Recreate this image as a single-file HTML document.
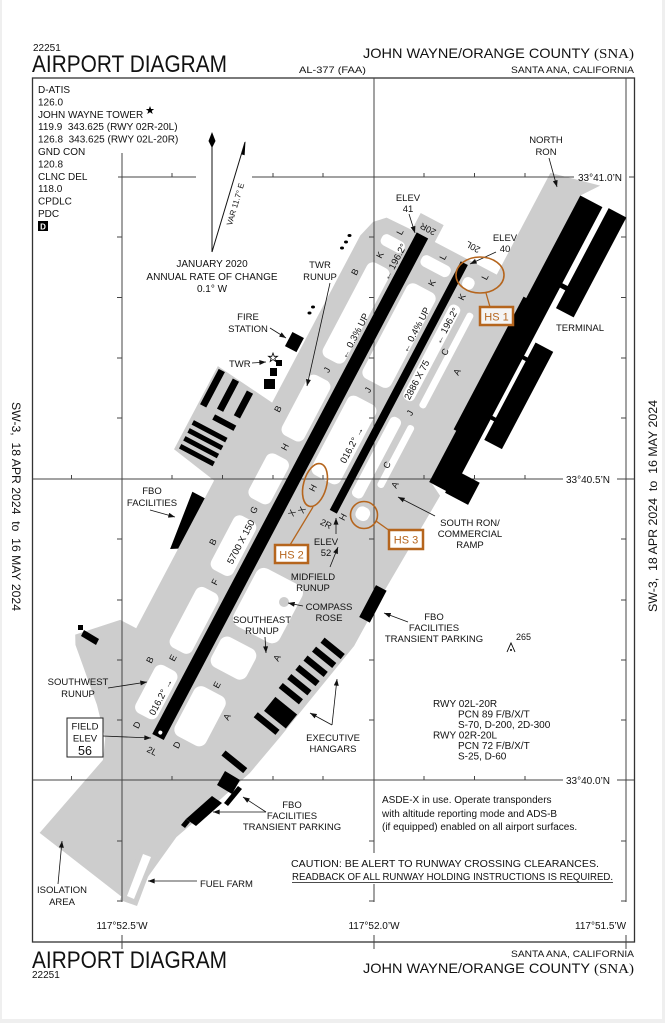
<!DOCTYPE html>
<html><head><meta charset="utf-8">
<style>
html,body{margin:0;padding:0;background:#efefef;}
svg{display:block;}
text{font-family:"Liberation Sans",Arial,sans-serif;fill:#111;}
.s{font-size:9.5px;}
.m{font-size:10px;}
.r{font-size:9.5px;}
.hs{font-size:11px;fill:#b5651d;}
</style></head><body>
<svg width="665" height="1023" viewBox="0 0 665 1023" xmlns="http://www.w3.org/2000/svg">
<defs>
<marker id="a" viewBox="0 0 8 6" refX="8" refY="3" markerWidth="7" markerHeight="5" markerUnits="userSpaceOnUse" orient="auto"><path d="M0,0 L8,3 L0,6 z" fill="#111"/></marker>
</defs>
<rect x="2" y="0" width="660" height="1019" fill="#fff"/>

<!-- header -->
<text x="33" y="51" class="m">22251</text>
<text x="32" y="72" font-size="24" textLength="195" lengthAdjust="spacingAndGlyphs">AIRPORT DIAGRAM</text>
<text x="363" y="58" font-size="14" textLength="227" lengthAdjust="spacingAndGlyphs">JOHN WAYNE/ORANGE COUNTY</text>
<text x="594" y="58" font-size="14" style="font-family:'Liberation Serif',serif" textLength="40" lengthAdjust="spacingAndGlyphs">(SNA)</text>
<text x="299" y="73" font-size="9.5" textLength="67" lengthAdjust="spacingAndGlyphs">AL-377 (FAA)</text>
<text x="511" y="73" font-size="9.5" textLength="123" lengthAdjust="spacingAndGlyphs">SANTA ANA, CALIFORNIA</text>

<!-- grey airfield -->
<g transform="translate(158,737) rotate(27.8)">
<polygon fill="#cdcdcd" points="-55,-538 -50,-556 -40,-566 -12,-567 -12,-586 14,-586 14,-567 84,-567 84,-682 134,-694 121,-676 124,-352 137,-345 132,-232 131,-172 108,-57 98,-11 84,27 63,80 52,160 -60,140 -38,46 -46,26 -69,0 -116,-43 -121,-52 -88,-86 -70,-86 -70,-253 -120,-262 -120,-356 -55,-349"/>
<g fill="#fff">
<rect x="-35" y="-552" width="25" height="12" rx="5"/>
<rect x="-35" y="-521" width="25" height="107" rx="7"/>
<rect x="-35" y="-394" width="25" height="68" rx="7"/>
<rect x="-35" y="-305" width="25" height="50" rx="7"/>
<rect x="-35" y="-235" width="25" height="61" rx="7"/>
<rect x="-35" y="-154" width="25" height="68" rx="7"/>
<rect x="-35" y="-66" width="25" height="54" rx="7"/>
<rect x="10" y="-552" width="32" height="12" rx="5"/>
<rect x="10" y="-521" width="32" height="107" rx="7"/>
<rect x="10" y="-394" width="32" height="89" rx="7"/>
<rect x="57" y="-552" width="12" height="12" rx="5"/>
<rect x="57" y="-521" width="12" height="107" rx="5"/>
<rect x="57" y="-394" width="12" height="90" rx="5"/>
<rect x="76" y="-521" width="7" height="107" rx="3"/>
<rect x="76" y="-394" width="7" height="70" rx="3"/>
<rect x="70" y="-300" width="14" height="14" rx="6"/>
<rect x="10" y="-200" width="52" height="65" rx="9"/>
<rect x="10" y="-122" width="40" height="34" rx="8"/>
<rect x="10" y="-66" width="35" height="56" rx="8"/>
</g>
</g>
<!-- fuel farm -->
<polygon fill="#cdcdcd" points="140,848 157,853 137,906 120,900"/>
<polygon fill="#fff" points="143,854 151,857 134,899 127,896"/>
<!-- compass rose -->
<circle cx="284" cy="602" r="5" fill="#cdcdcd"/>

<!-- grid lines -->
<g stroke="#444" stroke-width="1" fill="none">
<rect x="32.5" y="78" width="602" height="864" stroke="#333" stroke-width="1.3"/>
<path d="M118,177H196 M252,177H574 M629,177H634"/>
<path d="M32.5,479H563 M617,479H634"/>
<path d="M32.5,780H563 M617,780H634"/>
<path d="M122,153V902 M122,935V949"/>
<path d="M374,78V853 M374,884V902 M374,935V949"/>
<path d="M626,78V902 M626,935V949"/>
<path d="M172,177v-4 M273,177v-4 M323,177v-4 M424,177v-4 M474.5,177v-4 M525,177v-4"/>
<path d="M71.5,479v-4 M172,479v-4 M222.5,479v-4 M273,479v-4 M323,479v-4 M424,479v-4 M474.5,479v-4 M525,479v-4"/>
<path d="M71.5,780v-4 M172,780v-4 M222.5,780v-4 M273,780v-4 M323,780v-4 M424,780v-4 M474.5,780v-4 M525,780v-4"/>
<path d="M122,237h-5 M122,297.5h-5 M122,358h-5 M122,418h-5 M122,539h-5 M122,600h-5 M122,660h-5 M122,720h-5 M122,841h-5 M122,901h-5"/>
<path d="M374,237h-5 M374,297.5h-5 M374,358h-5 M374,418h-5 M374,539h-5 M374,600h-5 M374,660h-5 M374,720h-5 M374,841h-5 M374,901h-5"/>
<path d="M626,237h-5 M626,297.5h-5 M626,358h-5 M626,418h-5 M626,539h-5 M626,600h-5 M626,660h-5 M626,720h-5 M626,841h-5 M626,901h-5"/>
</g>

<!-- black runways and buildings -->
<g transform="translate(158,737) rotate(27.8)" fill="#000">
<rect x="-6.5" y="-567" width="13" height="567"/>
<rect x="46" y="-562" width="8" height="281"/>
<circle cx="0" cy="-5" r="2" fill="#fff"/>
<rect x="121" y="-676" width="25" height="324"/>
<rect x="118" y="-560" width="6" height="150"/>
<rect x="140" y="-375" width="26" height="25"/>
<rect x="152" y="-678" width="20" height="113"/>
<rect x="150" y="-525" width="20" height="110"/>
<rect x="145" y="-590" width="8" height="5"/>
<rect x="145" y="-508" width="6" height="4"/>
<rect x="145" y="-440" width="6" height="4"/>
<rect x="-118" y="-354" width="7" height="40"/>
<rect x="-101" y="-352" width="7" height="34"/>
<rect x="-83" y="-348" width="7" height="28"/>
<rect x="-100" y="-312" width="24" height="6"/>
<rect x="-116" y="-297" width="38" height="5"/>
<rect x="-116" y="-288" width="38" height="5"/>
<rect x="-116" y="-279" width="38" height="5"/>
<rect x="-116" y="-270" width="38" height="5"/>
<rect x="-70" y="-421" width="13" height="16"/>
<polygon points="-84,-233 -70,-233 -70,-176 -77,-172"/>
<rect x="122" y="-236" width="12" height="36"/>
</g>
<!-- TWR buildings -->
<g fill="#000">
<rect x="276" y="360" width="6" height="6"/>
<rect x="270" y="368" width="7" height="8"/>
<rect x="264" y="379" width="11" height="10"/>
<ellipse cx="342" cy="248" rx="2" ry="1.5"/><ellipse cx="346" cy="242" rx="2" ry="1.5"/><ellipse cx="349.5" cy="235.5" rx="2" ry="1.5"/>
<ellipse cx="309.5" cy="313" rx="2" ry="1.5"/><ellipse cx="313" cy="307" rx="2" ry="1.5"/>
<rect x="78" y="625" width="5" height="5"/>
<polygon points="84,630 99,639 96,645 81,636"/>
<polygon points="225,771 240,780 232,794 217,785"/>
<polygon points="238,786 242,789 228,806 224,803"/>
<polygon points="212,796 222,803 196,826 186,819"/>
<polygon points="186,819 190,822 185,828 181,825"/>
</g>
<!-- exec hangars -->
<g transform="translate(322.7,640) rotate(39)" fill="#000">
<rect x="0" y="-3" width="26" height="6.5"/>
<rect x="-1" y="9.3" width="26" height="6.5"/>
<rect x="-2" y="21.6" width="26" height="6.5"/>
<rect x="-2.5" y="33.9" width="26" height="6.5"/>
<rect x="-3" y="46.2" width="26" height="6.5"/>
<rect x="-4" y="58.5" width="26" height="6.5"/>
<rect x="-1" y="74" width="28" height="18"/>
<rect x="-5" y="97" width="28" height="6.5"/>
<rect x="-6" y="147" width="28" height="6.5"/>
</g>

<!-- frequency list -->
<g class="m" font-size="10">
<text x="38" y="93">D-ATIS</text>
<text x="38" y="105.4">126.0</text>
<text x="38" y="117.8">JOHN WAYNE TOWER</text>
<text x="38" y="130.2" xml:space="preserve">119.9  343.625 (RWY 02R-20L)</text>
<text x="38" y="142.6" xml:space="preserve">126.8  343.625 (RWY 02L-20R)</text>
<text x="38" y="155">GND CON</text>
<text x="38" y="167.4">120.8</text>
<text x="38" y="179.8">CLNC DEL</text>
<text x="38" y="192.2">118.0</text>
<text x="38" y="204.6">CPDLC</text>
<text x="38" y="217">PDC</text>
</g>
<polygon points="150,106 151.1,109 154.2,109 151.7,110.9 152.7,114 150,112.1 147.3,114 148.3,110.9 145.8,109 148.9,109" fill="#000"/>
<rect x="38" y="221" width="10" height="10" fill="#000"/>
<text x="43" y="229.5" font-size="8" font-weight="bold" text-anchor="middle" style="fill:#fff">D</text>

<!-- north arrow & variation -->
<line x1="212" y1="147" x2="212" y2="252" stroke="#111" stroke-width="1"/>
<polygon points="212,132 215.5,141 212,148 208.5,141" fill="#000"/>
<line x1="212" y1="252" x2="245" y2="142" stroke="#111" stroke-width="1"/>
<polygon points="245.5,141 241.5,154.4 244.6,155.3" fill="#000"/>
<text transform="translate(238,205) rotate(-73.3)" font-size="8" text-anchor="middle">VAR 11.7° E</text>
<g class="m" text-anchor="middle">
<text x="212" y="267">JANUARY 2020</text>
<text x="212" y="280">ANNUAL RATE OF CHANGE</text>
<text x="212" y="292">0.1° W</text>
</g>

<!-- leader lines -->
<g stroke="#111" stroke-width="0.8" fill="none" marker-end="url(#a)">
<line x1="549" y1="158" x2="557" y2="187"/>
<line x1="409" y1="214" x2="415" y2="233"/>
<line x1="496" y1="252" x2="470" y2="264"/>
<line x1="330" y1="283" x2="307" y2="386"/>
<line x1="270" y1="328" x2="286" y2="338"/>
<line x1="252" y1="363" x2="266" y2="362"/>
<line x1="150" y1="510" x2="175" y2="517"/>
<line x1="435" y1="516" x2="398" y2="497"/>
<line x1="336" y1="534" x2="336" y2="518"/>
<line x1="330" y1="567" x2="338" y2="547"/>
<line x1="303" y1="606" x2="288" y2="603"/>
<line x1="265" y1="637" x2="266" y2="653"/>
<line x1="408" y1="622" x2="384" y2="613"/>
<line x1="332" y1="725" x2="310" y2="713"/>
<line x1="332" y1="725" x2="337" y2="679"/>
<line x1="103" y1="736" x2="151" y2="738"/>
<line x1="108" y1="688" x2="147" y2="682"/>
<line x1="58" y1="884" x2="62" y2="841"/>
<line x1="197" y1="881" x2="148" y2="881"/>
<line x1="266" y1="812" x2="243" y2="797"/>
<line x1="266" y1="812" x2="213" y2="812"/>
</g>

<!-- hot spots -->
<g stroke="#b5651d" fill="none">
<ellipse cx="480" cy="275" rx="24" ry="18" stroke-width="1.6"/>
<line x1="486" y1="293" x2="490" y2="307" stroke-width="1.3"/>
<rect x="480" y="307" width="33" height="18" fill="#f4f4f4" stroke-width="2.5"/>
<ellipse cx="315" cy="485" rx="11.5" ry="22" transform="rotate(15 315 485)" stroke-width="1.6"/>
<line x1="313" y1="507" x2="290" y2="545" stroke-width="1.3"/>
<rect x="275" y="545" width="33" height="18" fill="#fff" stroke-width="2.5"/>
<circle cx="364" cy="515" r="13.5" stroke-width="1.6"/>
<line x1="376" y1="521" x2="390" y2="531" stroke-width="1.3"/>
<rect x="389" y="530" width="34" height="19" fill="#fff" stroke-width="2.5"/>
</g>
<text x="496.5" y="320.5" class="hs" text-anchor="middle">HS 1</text>
<text x="291.5" y="558.5" class="hs" text-anchor="middle">HS 2</text>
<text x="406" y="543.5" class="hs" text-anchor="middle">HS 3</text>

<!-- area labels -->
<g class="s" text-anchor="middle">
<text x="546" y="143">NORTH</text><text x="546" y="155">RON</text>
<text x="408" y="201">ELEV</text><text x="408" y="212">41</text>
<text x="505" y="241">ELEV</text><text x="505" y="252">40</text>
<text x="580" y="331">TERMINAL</text>
<text x="320" y="268">TWR</text><text x="320" y="280">RUNUP</text>
<text x="248" y="320">FIRE</text><text x="248" y="332">STATION</text>
<text x="152" y="494">FBO</text><text x="152" y="506">FACILITIES</text>
<text x="470" y="526">SOUTH RON/</text><text x="470" y="537">COMMERCIAL</text><text x="470" y="548">RAMP</text>
<text x="326" y="545">ELEV</text><text x="326" y="556">52</text>
<text x="313" y="580">MIDFIELD</text><text x="313" y="591">RUNUP</text>
<text x="329" y="610">COMPASS</text><text x="329" y="621">ROSE</text>
<text x="262" y="623">SOUTHEAST</text><text x="262" y="634">RUNUP</text>
<text x="434" y="620">FBO</text><text x="434" y="631">FACILITIES</text><text x="434" y="642">TRANSIENT PARKING</text>
<text x="333" y="741">EXECUTIVE</text><text x="333" y="752">HANGARS</text>
<text x="78" y="685">SOUTHWEST</text><text x="78" y="697">RUNUP</text>
<text x="62" y="893">ISOLATION</text><text x="62" y="905">AREA</text>
<text x="292" y="808">FBO</text><text x="292" y="819">FACILITIES</text><text x="292" y="830">TRANSIENT PARKING</text>
</g>
<text x="229" y="367" class="s">TWR</text>
<polygon points="273,353 274.2,356.3 277.5,356.3 274.8,358.3 275.8,361.5 273,359.6 270.2,361.5 271.2,358.3 268.5,356.3 271.8,356.3" fill="#fff" stroke="#000" stroke-width="0.8"/>
<text x="200" y="887" class="s">FUEL FARM</text>
<text x="516" y="640" font-size="9">265</text>
<path d="M507,652 L511,643 L515,652" stroke="#000" stroke-width="0.9" fill="none"/>
<circle cx="511" cy="650" r="1" fill="#000"/>

<!-- field elev box -->
<rect x="67" y="718" width="36" height="39" fill="#fff" stroke="#222" stroke-width="1"/>
<g text-anchor="middle">
<text x="85" y="729.5" class="s">FIELD</text>
<text x="85" y="741.5" class="s">ELEV</text>
<text x="85" y="755" font-size="12.5">56</text>
</g>

<!-- runway labels -->
<g class="r" text-anchor="middle">
<text transform="translate(395,262) rotate(-62.2)" dy="3">← 196.2°</text>
<text transform="translate(355,336) rotate(-62.2)" dy="3">← 0.3% UP</text>
<text transform="translate(416,330) rotate(-62.2)" dy="3">← 0.4% UP</text>
<text transform="translate(447,326) rotate(-62.2)" dy="3">← 196.2°</text>
<text transform="translate(417,380) rotate(-62.2)" dy="3">2886 X 75</text>
<text transform="translate(352,445) rotate(-62.2)" dy="3">016.2° →</text>
<text transform="translate(241,542) rotate(-62.2)" dy="3">5700 X 150</text>
<text transform="translate(161,697) rotate(-62.2)" dy="3">016.2° →</text>
<text transform="translate(428,229) rotate(207.8)" dy="3" font-size="9">20R</text>
<text transform="translate(473,247) rotate(207.8)" dy="3" font-size="9">20L</text>
<text transform="translate(326,524) rotate(27.8)" dy="3" font-size="9">2R</text>
<text transform="translate(152,751) rotate(27.8)" dy="3" font-size="9">2L</text>
</g>
<!-- taxiway letters -->
<g font-size="9" text-anchor="middle">
<text transform="translate(355,272) rotate(-62.2)" dy="3">B</text>
<text transform="translate(278,409) rotate(-62.2)" dy="3">B</text>
<text transform="translate(213,542) rotate(-62.2)" dy="3">B</text>
<text transform="translate(150,660) rotate(-62.2)" dy="3">B</text>
<text transform="translate(380,255) rotate(-62.2)" dy="3">K</text>
<text transform="translate(432,283) rotate(-62.2)" dy="3">K</text>
<text transform="translate(462,297) rotate(-62.2)" dy="3">K</text>
<text transform="translate(400,232) rotate(-62.2)" dy="3">L</text>
<text transform="translate(443,257) rotate(-62.2)" dy="3">L</text>
<text transform="translate(485,277) rotate(-62.2)" dy="3">L</text>
<text transform="translate(327,370) rotate(-62.2)" dy="3">J</text>
<text transform="translate(368,390) rotate(-62.2)" dy="3">J</text>
<text transform="translate(410,413) rotate(-62.2)" dy="3">J</text>
<text transform="translate(285,447) rotate(-62.2)" dy="3">H</text>
<text transform="translate(313,488) rotate(-62.2)" dy="3">H</text>
<text transform="translate(343,517) rotate(-62.2)" dy="3">H</text>
<text transform="translate(292,513) rotate(-62.2)" dy="3">X</text>
<text transform="translate(302,510) rotate(-62.2)" dy="3">X</text>
<text transform="translate(254,510) rotate(-62.2)" dy="3">G</text>
<text transform="translate(215,582) rotate(-62.2)" dy="3">F</text>
<text transform="translate(173,658) rotate(-62.2)" dy="3">E</text>
<text transform="translate(217,685) rotate(-62.2)" dy="3">E</text>
<text transform="translate(137,725) rotate(-62.2)" dy="3">D</text>
<text transform="translate(177,745) rotate(-62.2)" dy="3">D</text>
<text transform="translate(445,352) rotate(-62.2)" dy="3">C</text>
<text transform="translate(387,465) rotate(-62.2)" dy="3">C</text>
<text transform="translate(457,372) rotate(-62.2)" dy="3">A</text>
<text transform="translate(395,485) rotate(-62.2)" dy="3">A</text>
<text transform="translate(277,658) rotate(-62.2)" dy="3">A</text>
<text transform="translate(227,717) rotate(-62.2)" dy="3">A</text>
</g>

<!-- runway data -->
<g class="m">
<text x="433" y="707">RWY 02L-20R</text>
<text x="458" y="717.5">PCN 89 F/B/X/T</text>
<text x="458" y="728">S-70, D-200, 2D-300</text>
<text x="433" y="738.5">RWY 02R-20L</text>
<text x="458" y="749">PCN 72 F/B/X/T</text>
<text x="458" y="759.5">S-25, D-60</text>
<text x="382" y="803">ASDE-X in use. Operate transponders</text>
<text x="382" y="817">with altitude reporting mode and ADS-B</text>
<text x="382" y="830">(if equipped) enabled on all airport surfaces.</text>
<text x="291" y="867" textLength="308" lengthAdjust="spacingAndGlyphs">CAUTION: BE ALERT TO RUNWAY CROSSING CLEARANCES.</text>
<text x="292" y="880" textLength="321" lengthAdjust="spacingAndGlyphs">READBACK OF ALL RUNWAY HOLDING INSTRUCTIONS IS REQUIRED.</text>
</g>
<line x1="292" y1="882.5" x2="613" y2="882.5" stroke="#111" stroke-width="0.8"/>

<!-- coordinates -->
<g class="m">
<text x="578" y="181">33°41.0’N</text>
<text x="566" y="483">33°40.5’N</text>
<text x="566" y="784">33°40.0’N</text>
<text x="122" y="929" text-anchor="middle">117°52.5’W</text>
<text x="374" y="929" text-anchor="middle">117°52.0’W</text>
<text x="575" y="929">117°51.5’W</text>
</g>

<!-- footer -->
<text x="32" y="968" font-size="24" textLength="195" lengthAdjust="spacingAndGlyphs">AIRPORT DIAGRAM</text>
<text x="32" y="978" class="m">22251</text>
<text x="511" y="957" font-size="9.5" textLength="123" lengthAdjust="spacingAndGlyphs">SANTA ANA, CALIFORNIA</text>
<text x="363" y="973" font-size="14" textLength="227" lengthAdjust="spacingAndGlyphs">JOHN WAYNE/ORANGE COUNTY</text>
<text x="594" y="973" font-size="14" style="font-family:'Liberation Serif',serif" textLength="40" lengthAdjust="spacingAndGlyphs">(SNA)</text>

<!-- side texts -->
<text transform="translate(12,402) rotate(90)" font-size="11.5" textLength="209" lengthAdjust="spacingAndGlyphs" xml:space="preserve">SW-3,  18 APR 2024  to  16 MAY 2024</text>
<text transform="translate(657,612) rotate(-90)" font-size="11.5" textLength="212" lengthAdjust="spacingAndGlyphs" xml:space="preserve">SW-3,  18 APR 2024  to  16 MAY 2024</text>
</svg>
</body></html>
